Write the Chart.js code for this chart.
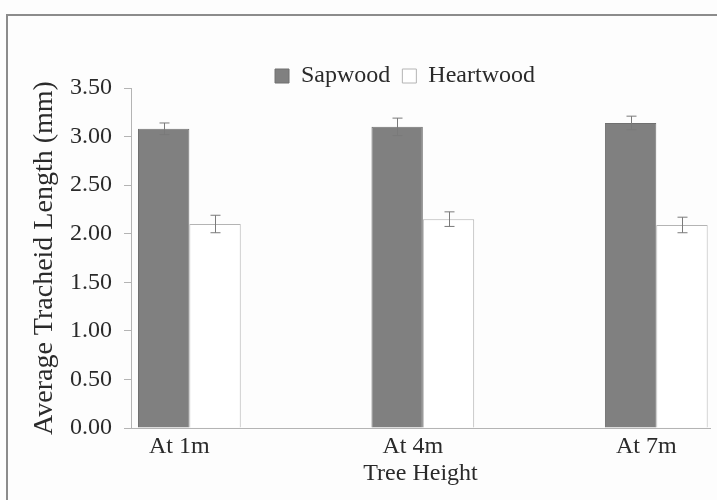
<!DOCTYPE html>
<html>
<head>
<meta charset="utf-8">
<script src="https://cdn.jsdelivr.net/npm/chart.js@4.4.1/dist/chart.umd.min.js"></script>
<style>
  html, body { margin: 0; padding: 0; background: #fdfdfd; }
  #wrap { position: relative; width: 717px; height: 500px; overflow: hidden; }
  #frame { position: absolute; left: 6px; top: 14px; width: 800px; height: 600px;
           border-top: 2px solid #8c8c8c; border-left: 2px solid #8c8c8c; box-sizing: border-box; }
  canvas { position: absolute; left: 0; top: 0; }
</style>
</head>
<body>
<div id="wrap">
  <div id="frame"></div>
  <canvas id="c" width="717" height="500"></canvas>
</div>
<script>
const categories = ["At 1m", "At 4m", "At 7m"];
const seriesNames = ["Sapwood", "Heartwood"];
const sapwood = [3.08, 3.10, 3.14];
const heartwood = [2.10, 2.15, 2.09];
const sapwoodErr = [0.06, 0.09, 0.07];
const heartwoodErr = [0.09, 0.075, 0.08];
const yTicks = [0, 0.5, 1, 1.5, 2, 2.5, 3, 3.5];

const TEXT = '#2a2a2a';
const FONT = 'Liberation Serif';

const errorBars = {
  id: 'errorBars',
  afterDatasetsDraw(chart) {
    const ctx = chart.ctx;
    const y = chart.scales.y;
    const errs = [sapwoodErr, heartwoodErr];
    ctx.save();
    ctx.strokeStyle = '#7a7a7a';
    ctx.lineWidth = 1;
    chart.data.datasets.forEach((ds, di) => {
      const meta = chart.getDatasetMeta(di);
      meta.data.forEach((bar, i) => {
        const v = ds.data[i].y, e = errs[di][i];
        const x = Math.round(bar.x) + 0.5;
        const yt = y.getPixelForValue(v + e), yb = y.getPixelForValue(v - e);
        ctx.beginPath();
        ctx.moveTo(x, yt); ctx.lineTo(x, yb);
        ctx.moveTo(x - 5, yt); ctx.lineTo(x + 5, yt);
        ctx.moveTo(x - 5, yb); ctx.lineTo(x + 5, yb);
        ctx.stroke();
      });
    });
    ctx.restore();
  }
};

const legendShift = {
  id: 'legendShift',
  afterLayout(chart) {
    const lg = chart.legend;
    if (!lg) return;
    const dx = 405 - (lg.left + lg.right) / 2;
    lg.left += dx; lg.right += dx;
    lg.top += 10; lg.bottom += 10;
  }
};

new Chart(document.getElementById('c'), {
  type: 'bar',
  data: {
    datasets: [
      { label: seriesNames[0], data: sapwood.map((v, i) => ({ x: i, y: v })),
        backgroundColor: '#808080', borderColor: '#707070', borderWidth: 1 },
      { label: seriesNames[1], data: heartwood.map((v, i) => ({ x: i, y: v })),
        backgroundColor: '#ffffff', borderColor: '#b4b4b4', borderWidth: 1 }
    ]
  },
  options: {
    responsive: false,
    animation: false,
    devicePixelRatio: 1,
    categoryPercentage: 0.44,
    barPercentage: 1.0,
    layout: { padding: { left: 28, right: 7, top: 42, bottom: 12 } },
    plugins: {
      legend: {
        position: 'top',
        labels: { boxWidth: 14, boxHeight: 14, padding: 12, color: TEXT,
                  font: { family: FONT, size: 24 } }
      },
      tooltip: { enabled: false }
    },
    scales: {
      x: {
        type: 'linear',
        offset: false,
        min: -0.25, max: 2.23,
        afterBuildTicks(scale) { scale.ticks = categories.map((c, i) => ({ value: i })); },
        afterFit(scale) { scale.height = 500 - 428 - 12; },
        ticks: {
          autoSkip: false, maxRotation: 0, labelOffset: -10, padding: 4,
          color: TEXT, font: { family: FONT, size: 24 },
          callback: (v) => categories[v]
        },
        grid: { display: true, drawOnChartArea: false, drawTicks: false, color: '#b4b4b4' },
        border: { display: true, color: '#b4b4b4', width: 1 },
        title: { display: true, text: 'Tree Height', color: TEXT,
                 font: { family: FONT, size: 24 }, padding: 0 }
      },
      y: {
        min: 0, max: 3.5,
        afterBuildTicks(scale) { scale.ticks = yTicks.map(v => ({ value: v })); },
        afterFit(scale) { scale.width = 131 - 28; },
        ticks: { color: TEXT, font: { family: FONT, size: 24 }, padding: 12,
                 callback: (v) => Number(v).toFixed(2) },
        grid: { display: true, drawOnChartArea: false, drawTicks: true, tickLength: 7, color: '#b4b4b4' },
        border: { display: true, color: '#b4b4b4', width: 1 },
        title: { display: true, text: 'Average Tracheid Length (mm)', color: TEXT,
                 font: { family: FONT, size: 28 }, padding: 0 }
      }
    }
  },
  plugins: [errorBars, legendShift]
});
</script>
</body>
</html>
